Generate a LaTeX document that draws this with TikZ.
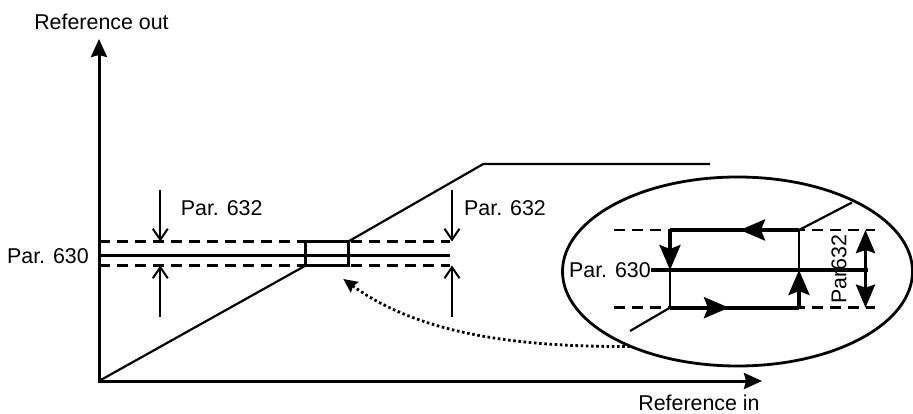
\documentclass[tikz,border=0pt]{standalone}
\usepackage{fontspec}
\setmainfont{Liberation Sans}
\usetikzlibrary{arrows.meta}
\begin{document}
\begin{tikzpicture}[x=1pt,y=-1pt,
  lbl/.style={inner sep=0pt,font=\fontsize{21.4}{25}\selectfont},
  axisline/.style={line width=3pt,{Stealth[length=18pt,width=16pt,inset=2pt]}-{Stealth[length=18pt,width=16pt,inset=2pt]}},
  mainline/.style={line width=3.2pt},
  dashline/.style={line width=2.6pt,dash pattern=on 11pt off 7pt},
  ramp/.style={line width=2.2pt},
  barb/.style={line width=2pt,-{Straight Barb[length=11pt,width=15pt,line width=2pt]}},
  thickline/.style={line width=3.8pt},
  thinline/.style={line width=2.6pt},
  bigtip/.style={-{Stealth[length=25pt,width=21pt,inset=4pt]}},
  dbltip/.style={{Stealth[length=23pt,width=19pt,inset=3pt]}-{Stealth[length=23pt,width=19pt,inset=3pt]}},
  dotarrow/.style={line width=2.8pt,dash pattern=on 2.6pt off 2.6pt,-{Stealth[length=14pt,width=13pt,inset=2pt]}}
]
\useasboundingbox (0,0) rectangle (913,414);
% axes
\coordinate (O) at (99,381);
\coordinate (ytip) at (99,39);
\coordinate (xtip) at (762,381);
\draw[axisline] (ytip) -- (O) -- (xtip);
\node[lbl] (yl) at (101.5,22) {Reference out};
\node[lbl] (xl) at (699,402.5) {Reference in};
% Par 630 level with band
\node[lbl,anchor=east] (p630a) at (89,255.7) {Par. 630};
\coordinate (sL) at (99,255.7);
\coordinate (sR) at (450,255.7);
\coordinate (dtL) at (99,241.5);
\coordinate (dtR) at (450,241.5);
\coordinate (dbL) at (99,265.5);
\coordinate (dbR) at (450,265.5);
\draw[dashline] (dtL) -- (dtR);
\draw[dashline] (dbL) -- (dbR);
\draw[mainline] (sL) -- (sR);
% ramp and box
\coordinate (b1) at (305.7,265.5);
\coordinate (b2) at (348.3,241.5);
\coordinate (k) at (483.3,164);
\coordinate (kend) at (710,164);
\draw[ramp] (O) -- (b1);
\draw[line width=2.6pt] (b1) rectangle (b2);
\draw[ramp] (b2) -- (k) -- (kend);
% Par 632 arrows
\coordinate (a1s) at (160.3,190);
\coordinate (a1t) at (160.3,241.5);
\coordinate (a2s) at (160.3,317);
\coordinate (a2t) at (160.3,265.5);
\coordinate (a3s) at (452,190);
\coordinate (a3t) at (452,241.5);
\coordinate (a4s) at (452,317);
\coordinate (a4t) at (452,265.5);
\draw[barb] (a1s) -- (a1t);
\draw[barb] (a2s) -- (a2t);
\draw[barb] (a3s) -- (a3t);
\draw[barb] (a4s) -- (a4t);
\node[lbl] (p632a) at (221.7,208) {Par. 632};
\node[lbl,anchor=west] (p632b) at (464,208) {Par. 632};
% magnified ellipse
\draw[line width=2.8pt] (737.5,271.5) ellipse [x radius=175, y radius=94.5];
\coordinate (dotS) at (630,346.5);
\coordinate (dotT) at (343.3,279);
\draw[dotarrow] (dotS) .. controls (520,347) and (420,335) .. (dotT);
% inner detail
\coordinate (edtL) at (614,230);
\coordinate (edtR) at (875,230);
\coordinate (edbL) at (614,307.7);
\coordinate (edbR) at (875,307.7);
\draw[dashline] (edtL) -- (edtR);
\draw[dashline] (edbL) -- (edbR);
\node[lbl,anchor=east] (p630b) at (651,270) {Par. 630};
\coordinate (esR) at (868,270);
\draw[mainline] (p630b.east) -- (esR);
\coordinate (iL) at (670,230);
\coordinate (iR) at (799,230);
\coordinate (jL) at (670,307.7);
\coordinate (jR) at (799,307.7);
\coordinate (mL) at (670,270);
\coordinate (mR) at (799,270);
\coordinate (topTip) at (740,230);
\coordinate (botTip) at (729,307.7);
\draw[thickline] (iR) -- (iL);
\draw[thickline] (jL) -- (jR);
\draw[thickline,bigtip] (iR) -- (topTip);
\draw[thickline,bigtip] (jL) -- (botTip);
\draw[thickline,bigtip] (iL) -- (mL);
\draw[thinline] (mL) -- (jL);
\draw[thickline,bigtip] (jR) -- (mR);
\draw[thinline] (mR) -- (iR);
\coordinate (dgU) at (852,202.5);
\coordinate (dgD) at (630,331);
\draw[ramp] (iR) -- (dgU);
\draw[ramp] (jL) -- (dgD);
\coordinate (dbT) at (865.5,230);
\coordinate (dbB) at (865.5,307.7);
\draw[thickline,dbltip] (dbT) -- (dbB);
\node[lbl,rotate=90] (p632c) at (839,269) {Par632};
\end{tikzpicture}
\end{document}
